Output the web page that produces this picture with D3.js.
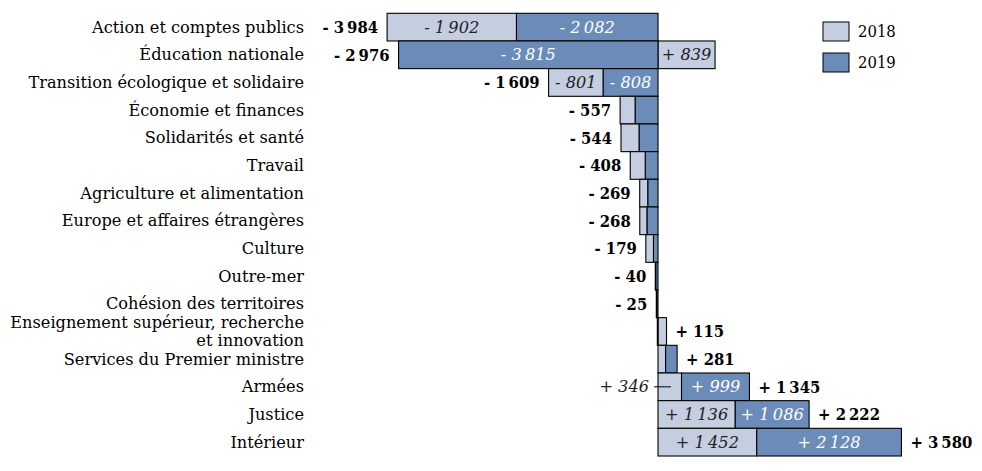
<!DOCTYPE html>
<html><head><meta charset="utf-8">
<script src="https://cdn.jsdelivr.net/npm/d3@7"></script>
<style>
body{margin:0;background:#fff;}
text{font-family:"DejaVu Serif",serif;}
text.cond{font-family:"DejaVu Serif Condensed","DejaVu Serif",serif;font-stretch:condensed;}
</style></head>
<body><svg id="c" width="982" height="471"></svg>
<script>
const categories = ["Action et comptes publics","Éducation nationale","Transition écologique et solidaire","Économie et finances","Solidarités et santé","Travail","Agriculture et alimentation","Europe et affaires étrangères","Culture","Outre-mer","Cohésion des territoires","Enseignement supérieur, recherche\net innovation","Services du Premier ministre","Armées","Justice","Intérieur"];
const values2018 = [-1902, 839, -801, -220, -265, -220, -118, -105, -112, -5, -8, 125, 112, 346, 1136, 1452];
const values2019 = [-2082, -3815, -808, -337, -279, -188, -151, -163, -67, -35, -17, -10, 169, 999, 1086, 2128];
const totals = [-3984, -2976, -1609, -557, -544, -408, -269, -268, -179, -40, -25, 115, 281, 1345, 2222, 3580];
const seriesNames = ["2018", "2019"];
const leaderLabels = ["Armées"];

const FS = 16.2;
const colors = {"2018":"#c4cee0","2019":"#6b8bb9"};
const svg = d3.select("#c");
const x = d3.scaleLinear().domain([-4000, 4000]).range([386, 930]);
const y = d3.scaleBand().domain(categories).range([13.3, 456]).padding(0);

const fmt = v => {
  const s = d3.format(",")(Math.abs(v)).replace(/,/g, "\u202F");
  return (v < 0 ? "- " : "+ ") + s;
};

const segs = [];
categories.forEach((c, i) => {
  let pos = 0, neg = 0;
  const order = [["2018", values2018[i]], ["2019", values2019[i]]];
  const negOrder = [["2019", values2019[i]], ["2018", values2018[i]]];
  order.forEach(([s, v]) => { if (v > 0) { segs.push({c, s, v, x0: pos, x1: pos + v}); pos += v; } });
  negOrder.forEach(([s, v]) => { if (v < 0) { segs.push({c, s, v, x0: neg + v, x1: neg}); neg += v; } });
});

const g = svg.append("g");
g.selectAll("rect.seg").data(segs).join("rect")
  .attr("x", d => x(d.x0)).attr("y", d => y(d.c))
  .attr("width", d => Math.max(0.5, x(d.x1) - x(d.x0)))
  .attr("height", y.bandwidth())
  .attr("fill", d => colors[d.s]).attr("stroke", "#000").attr("stroke-width", 1.1);

g.selectAll("text.in").data(segs.filter(d => x(d.x1) - x(d.x0) > 45)).join("text")
  .attr("x", d => (x(d.x0) + x(d.x1)) / 2).attr("y", d => y(d.c) + y.bandwidth() / 2)
  .attr("dy", "0.35em").attr("text-anchor", "middle")
  .attr("font-style", "italic").attr("font-size", FS)
  .attr("fill", d => d.s === "2019" ? "#fff" : "#222")
  .text(d => fmt(d.v));

segs.filter(d => leaderLabels.includes(d.c) && d.s === "2018").forEach(d => {
  const cy = y(d.c) + y.bandwidth() / 2;
  g.append("line").attr("x1", x(0) - 4).attr("x2", x(0) + 13).attr("y1", cy).attr("y2", cy)
    .attr("stroke", "#000").attr("stroke-width", 1);
  g.append("text").attr("x", x(0) - 9).attr("y", cy).attr("dy", "0.35em")
    .attr("text-anchor", "end").attr("font-style", "italic").attr("font-size", FS)
    .attr("fill", "#222").text(fmt(d.v));
});

categories.forEach((c, i) => {
  const t = totals[i];
  const cy = y(c) + y.bandwidth() / 2;
  const ext = t < 0 ? Math.min(0, values2018[i]) + Math.min(0, values2019[i])
                    : Math.max(0, values2018[i]) + Math.max(0, values2019[i]);
  g.append("text").attr("class", "cond").attr("x", t < 0 ? x(ext) - 9 : x(ext) + 9).attr("y", cy).attr("dy", "0.35em")
    .attr("text-anchor", t < 0 ? "end" : "start").attr("font-weight", "bold").attr("font-size", 16.5)
    .attr("fill", "#000").text(fmt(t));
});

categories.forEach(c => {
  const lines = c.split("\n");
  const cy = y(c) + y.bandwidth() / 2;
  const t = svg.append("text").attr("x", 304).attr("text-anchor", "end").attr("font-size", FS).attr("fill", "#000");
  lines.forEach((l, k) => {
    t.append("tspan").attr("x", 304).attr("y", cy + (k - (lines.length - 1) / 2) * 18).attr("dy", "0.35em").text(l);
  });
});

const lg = svg.append("g");
seriesNames.forEach((s, k) => {
  lg.append("rect").attr("x", 823).attr("y", 22 + k * 31).attr("width", 26).attr("height", 19)
    .attr("fill", colors[s]).attr("stroke", "#000").attr("stroke-width", 1);
  lg.append("text").attr("class", "cond").attr("x", 858).attr("y", 31.5 + k * 31).attr("dy", "0.35em")
    .attr("font-size", 16.5).text(s);
});
</script></body></html>
